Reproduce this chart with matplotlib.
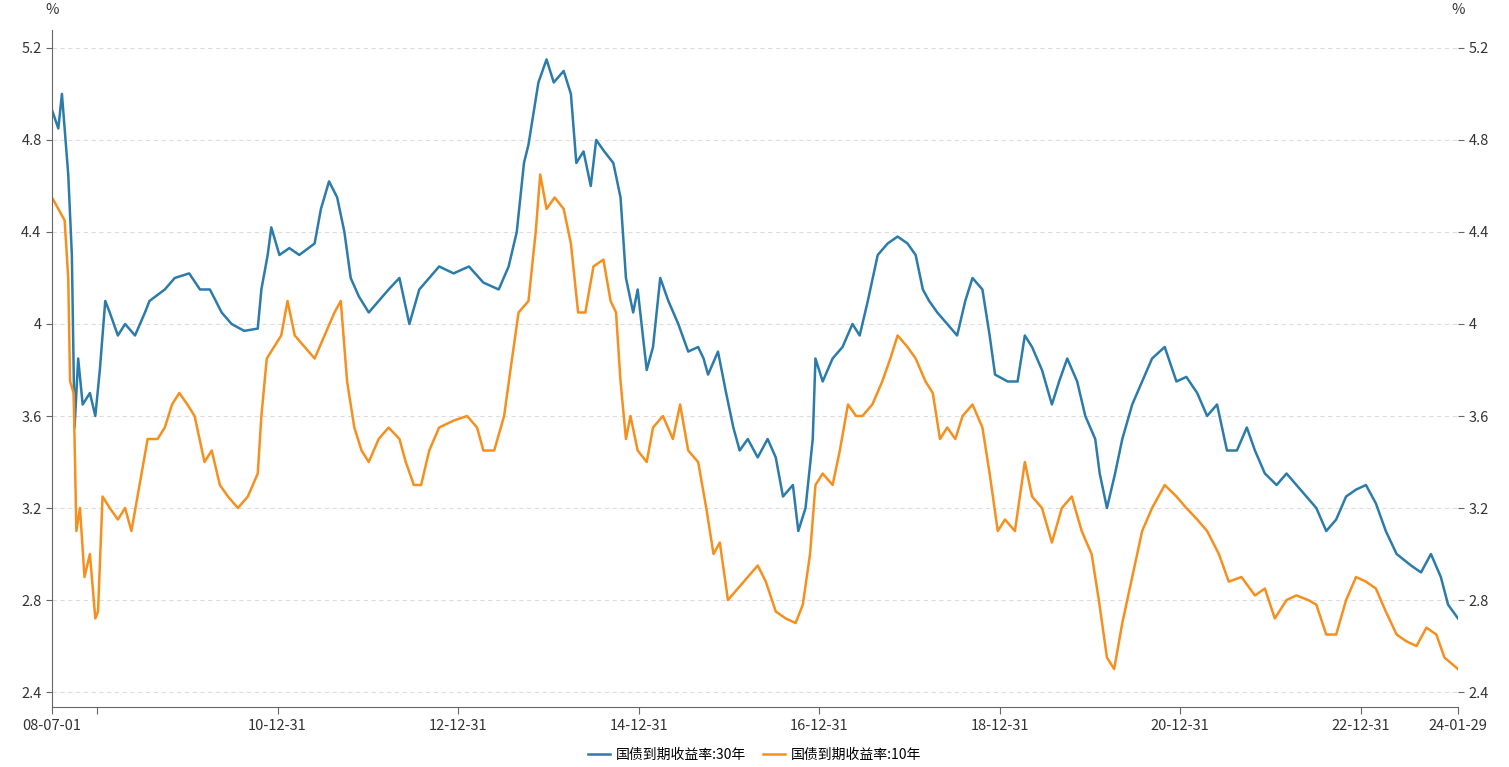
import matplotlib
matplotlib.use("Agg")
import matplotlib.pyplot as plt
from matplotlib.ticker import FuncFormatter

plt.rcParams['font.family'] = ['Noto Sans CJK SC', 'DejaVu Sans']

t30 = [2008.50,2008.57,2008.61,2008.65,2008.68,2008.72,2008.75,2008.79,2008.84,2008.92,2008.98,2009.03,2009.09,2009.14,2009.23,2009.31,2009.42,2009.53,2009.58,2009.75,2009.86,2010.02,2010.14,2010.25,2010.38,2010.49,2010.63,2010.78,2010.82,2010.89,2010.93,2011.02,2011.13,2011.24,2011.41,2011.48,2011.57,2011.66,2011.74,2011.81,2011.90,2012.01,2012.12,2012.23,2012.35,2012.46,2012.57,2012.68,2012.79,2012.95,2013.12,2013.28,2013.45,2013.56,2013.65,2013.73,2013.78,2013.89,2013.98,2014.06,2014.17,2014.25,2014.31,2014.39,2014.47,2014.53,2014.62,2014.72,2014.80,2014.86,2014.94,2014.99,2015.09,2015.16,2015.24,2015.33,2015.44,2015.55,2015.66,2015.72,2015.77,2015.88,2015.97,2016.05,2016.12,2016.21,2016.32,2016.43,2016.52,2016.60,2016.71,2016.77,2016.85,2016.93,2016.96,2017.04,2017.15,2017.26,2017.37,2017.45,2017.54,2017.65,2017.76,2017.87,2017.98,2018.07,2018.15,2018.22,2018.31,2018.42,2018.53,2018.62,2018.70,2018.81,2018.89,2018.95,2019.09,2019.20,2019.28,2019.36,2019.47,2019.58,2019.66,2019.75,2019.86,2019.95,2020.06,2020.11,2020.19,2020.28,2020.36,2020.47,2020.58,2020.69,2020.83,2020.96,2021.07,2021.19,2021.30,2021.41,2021.52,2021.63,2021.74,2021.83,2021.94,2022.07,2022.18,2022.29,2022.40,2022.51,2022.62,2022.73,2022.84,2022.95,2023.06,2023.17,2023.28,2023.40,2023.56,2023.67,2023.78,2023.89,2023.97,2024.08]
y30 = [4.93,4.85,5.0,4.8,4.65,4.3,3.55,3.85,3.65,3.7,3.6,3.8,4.1,4.05,3.95,4.0,3.95,4.05,4.1,4.15,4.2,4.22,4.15,4.15,4.05,4.0,3.97,3.98,4.15,4.3,4.42,4.3,4.33,4.3,4.35,4.5,4.62,4.55,4.4,4.2,4.12,4.05,4.1,4.15,4.2,4.0,4.15,4.2,4.25,4.22,4.25,4.18,4.15,4.25,4.4,4.7,4.78,5.05,5.15,5.05,5.1,5.0,4.7,4.75,4.6,4.8,4.75,4.7,4.55,4.2,4.05,4.15,3.8,3.9,4.2,4.1,4.0,3.88,3.9,3.85,3.78,3.88,3.7,3.55,3.45,3.5,3.42,3.5,3.42,3.25,3.3,3.1,3.2,3.5,3.85,3.75,3.85,3.9,4.0,3.95,4.1,4.3,4.35,4.38,4.35,4.3,4.15,4.1,4.05,4.0,3.95,4.1,4.2,4.15,3.95,3.78,3.75,3.75,3.95,3.9,3.8,3.65,3.75,3.85,3.75,3.6,3.5,3.35,3.2,3.35,3.5,3.65,3.75,3.85,3.9,3.75,3.77,3.7,3.6,3.65,3.45,3.45,3.55,3.45,3.35,3.3,3.35,3.3,3.25,3.2,3.1,3.15,3.25,3.28,3.3,3.22,3.1,3.0,2.95,2.92,3.0,2.9,2.78,2.72]

t10 = [2008.50,2008.57,2008.64,2008.68,2008.70,2008.74,2008.77,2008.81,2008.86,2008.92,2008.98,2009.01,2009.06,2009.14,2009.23,2009.31,2009.38,2009.47,2009.56,2009.67,2009.75,2009.83,2009.91,2010.00,2010.08,2010.19,2010.27,2010.36,2010.45,2010.56,2010.67,2010.78,2010.82,2010.88,2010.96,2011.04,2011.11,2011.19,2011.30,2011.41,2011.52,2011.63,2011.70,2011.77,2011.85,2011.93,2012.01,2012.12,2012.23,2012.35,2012.42,2012.51,2012.59,2012.68,2012.79,2012.95,2013.10,2013.21,2013.28,2013.40,2013.51,2013.58,2013.67,2013.78,2013.86,2013.91,2013.98,2014.07,2014.17,2014.25,2014.33,2014.41,2014.50,2014.61,2014.69,2014.75,2014.80,2014.86,2014.91,2014.99,2015.09,2015.16,2015.27,2015.38,2015.46,2015.55,2015.66,2015.75,2015.83,2015.90,2015.99,2016.10,2016.21,2016.32,2016.41,2016.52,2016.63,2016.74,2016.82,2016.90,2016.96,2017.04,2017.15,2017.23,2017.32,2017.41,2017.48,2017.59,2017.70,2017.79,2017.87,2017.98,2018.07,2018.18,2018.26,2018.34,2018.42,2018.51,2018.59,2018.70,2018.81,2018.89,2018.98,2019.06,2019.17,2019.28,2019.36,2019.47,2019.58,2019.69,2019.80,2019.91,2020.02,2020.10,2020.19,2020.27,2020.36,2020.47,2020.58,2020.69,2020.83,2020.96,2021.07,2021.19,2021.30,2021.43,2021.54,2021.68,2021.83,2021.94,2022.05,2022.18,2022.29,2022.42,2022.51,2022.62,2022.73,2022.84,2022.95,2023.06,2023.17,2023.28,2023.40,2023.51,2023.62,2023.73,2023.84,2023.93,2024.08]
y10 = [4.55,4.5,4.45,4.2,3.75,3.7,3.1,3.2,2.9,3.0,2.72,2.75,3.25,3.2,3.15,3.2,3.1,3.3,3.5,3.5,3.55,3.65,3.7,3.65,3.6,3.4,3.45,3.3,3.25,3.2,3.25,3.35,3.6,3.85,3.9,3.95,4.1,3.95,3.9,3.85,3.95,4.05,4.1,3.75,3.55,3.45,3.4,3.5,3.55,3.5,3.4,3.3,3.3,3.45,3.55,3.58,3.6,3.55,3.45,3.45,3.6,3.8,4.05,4.1,4.4,4.65,4.5,4.55,4.5,4.35,4.05,4.05,4.25,4.28,4.1,4.05,3.75,3.5,3.6,3.45,3.4,3.55,3.6,3.5,3.65,3.45,3.4,3.2,3.0,3.05,2.8,2.85,2.9,2.95,2.88,2.75,2.72,2.7,2.78,3.0,3.3,3.35,3.3,3.45,3.65,3.6,3.6,3.65,3.75,3.85,3.95,3.9,3.85,3.75,3.7,3.5,3.55,3.5,3.6,3.65,3.55,3.35,3.1,3.15,3.1,3.4,3.25,3.2,3.05,3.2,3.25,3.1,3.0,2.8,2.55,2.5,2.7,2.9,3.1,3.2,3.3,3.25,3.2,3.15,3.1,3.0,2.88,2.9,2.82,2.85,2.72,2.8,2.82,2.8,2.78,2.65,2.65,2.8,2.9,2.88,2.85,2.75,2.65,2.62,2.6,2.68,2.65,2.55,2.5]

tick_pos = [2008.5, 2009.0, 2011.0, 2013.0, 2015.0, 2017.0, 2019.0, 2021.0, 2023.0, 2024.08]
tick_lab = ['08-07-01', '', '10-12-31', '12-12-31', '14-12-31', '16-12-31', '18-12-31', '20-12-31', '22-12-31', '24-01-29']
yticks = [2.4, 2.8, 3.2, 3.6, 4.0, 4.4, 4.8, 5.2]
names = ['国债到期收益率:30年', '国债到期收益率:10年']
c30, c10 = '#2b7bab', '#f5901e'

fig = plt.figure(figsize=(15.09, 7.67), dpi=100)
ax = fig.add_axes([52/1509, 60/767, 1406/1509, 677/767])
ax.plot(t30, y30, color=c30, lw=1.8, label=names[0])
ax.plot(t10, y10, color=c10, lw=1.8, label=names[1])
ax.set_xlim(2008.5, 2024.08)
ax.set_ylim(2.335, 5.278)
ax.set_yticks(yticks)
fmt = FuncFormatter(lambda v, p: f'{v:g}')
ax.yaxis.set_major_formatter(fmt)
ax.set_xticks(tick_pos)
ax.set_xticklabels(tick_lab)
ax.grid(axis='y', color='#dddddd', ls=(0, (4, 3)), lw=0.8)
for s in ['top', 'right']:
    ax.spines[s].set_visible(False)
for s in ['left', 'bottom']:
    ax.spines[s].set_color('#666666')
ax.tick_params(axis='both', colors='#333333', labelsize=10.5, length=5, color='#666666')
ax.tick_params(axis='y', length=4)
ax2 = ax.twinx()
ax2.set_ylim(ax.get_ylim())
ax2.set_yticks(yticks)
ax2.yaxis.set_major_formatter(fmt)
for s in ['top', 'left', 'bottom', 'right']:
    ax2.spines[s].set_visible(False)
ax2.tick_params(axis='y', colors='#333333', labelsize=10.5, length=4, color='#666666')
fig.text(52/1509, 1 - 10/767, '%', ha='center', va='center', fontsize=10.5, color='#333333')
fig.text(1458/1509, 1 - 10/767, '%', ha='center', va='center', fontsize=10.5, color='#333333')
h, l = ax.get_legend_handles_labels()
fig.legend(h, l, loc='center', bbox_to_anchor=(0.5, 1 - 755/767), ncol=2, frameon=False,
           fontsize=10, handlelength=1.6, columnspacing=1.2, handletextpad=0.4)
fig.savefig('out.png', dpi=100)
